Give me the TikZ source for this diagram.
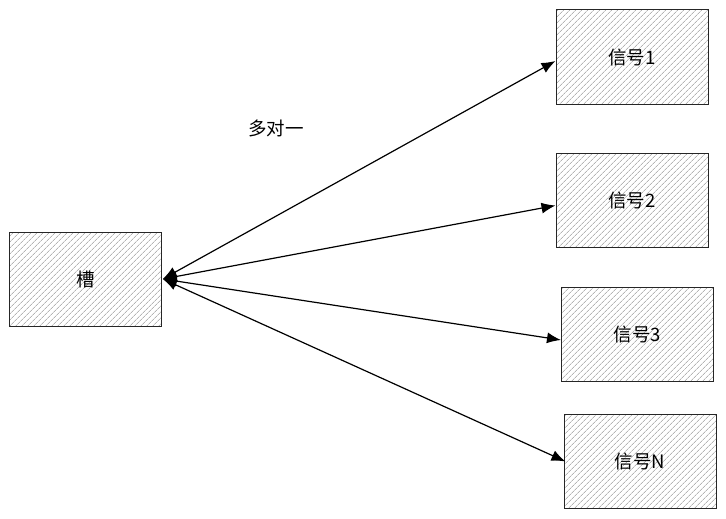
\documentclass[tikz,border=0pt]{standalone}
\usepackage{fontspec}
\setmainfont{Noto Sans CJK SC}
\usetikzlibrary{arrows.meta,patterns.meta}
\tikzstyle{box} = [rectangle, draw=black!85, line width=1pt, minimum width=152pt, minimum height=94pt, inner sep=0pt, font=\fontsize{18.5}{20}\selectfont, pattern={Lines[angle=45,distance=4pt,line width=0.6pt]}, pattern color=black!45]
\tikzstyle{connector} = [line width=1.2pt, {Latex[length=14pt,width=11pt]}-{Latex[length=14pt,width=11pt]}]

\begin{document}
\begin{tikzpicture}[x=1pt, y=-1pt]
        \useasboundingbox (0,0) rectangle (726,519);
        \node (slot) [box] at (85.5,279) {槽};
        \node (sig-1) [box] at (632,57) {信号1};
        \node (sig-2) [box] at (632,200.5) {信号2};
        \node (sig-3) [box] at (637.5,334) {信号3};
        \node (sig-n) [box] at (640,461.5) {信号N};
        \node (label-1) at (276,128) {\fontsize{18.5}{20}\selectfont 多对一};
        \draw [connector] ([xshift=1pt]slot.east) -- ([yshift=-4pt]sig-1.west);
        \draw [connector] ([xshift=1pt]slot.east) -- ([yshift=-5pt]sig-2.west);
        \draw [connector] ([xshift=1pt]slot.east) -- ([yshift=-6pt]sig-3.west);
        \draw [connector] ([xshift=1pt]slot.east) -- ([xshift=2pt]sig-n.west);
    \end{tikzpicture}
\end{document}
